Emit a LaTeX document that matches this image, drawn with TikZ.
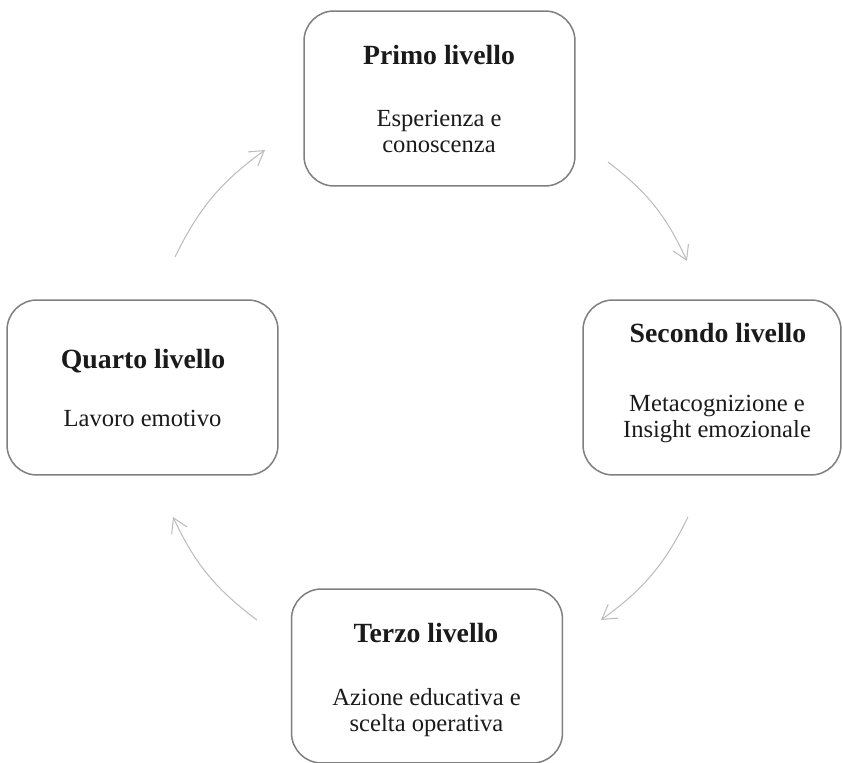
\documentclass[tikz,border=0pt]{standalone}
\usepackage{fontspec}
\setmainfont{Liberation Serif}
\usetikzlibrary{arrows.meta}

\definecolor{bordo}{HTML}{7F7F7F}
\definecolor{freccia}{HTML}{BDBDBD}
\definecolor{scritta}{HTML}{1A1A1A}

\tikzset{
  livello/.style={draw=bordo, line width=0.85pt, rounded corners=0.6cm, minimum height=3.5cm, inner sep=0pt},
  titolo/.style={anchor=base, text=scritta, font=\bfseries\fontsize{15.8}{18}\selectfont},
  testo/.style={anchor=base, align=center, text=scritta, font=\fontsize{14}{15.2}\selectfont},
  arco/.style={draw=freccia, line width=0.6pt, -{Straight Barb[length=0.28cm,width=0.34cm]}}
}

\begin{document}
\begin{tikzpicture}[x=0.02cm,y=-0.02cm]
\useasboundingbox (0,0) rectangle (843,763);

%the four boxes
\node [livello, minimum width=5.42cm] (primo) at (439.5,98.5) {};
\node [livello, minimum width=5.16cm] (secondo) at (712,387.5) {};
\node [livello, minimum width=5.42cm, minimum height=3.48cm] (terzo) at (427,676) {};
\node [livello, minimum width=5.42cm] (quarto) at (142.5,387.5) {};

%titles and texts (base of a two line text is its last line)
\node [titolo] (primoT) at (439,65) {Primo livello};
\node [testo] (primoD) at (439,153) {Esperienza e\\conoscenza};
\node [titolo] (secondoT) at (718,343) {Secondo livello};
\node [testo] (secondoD) at (717,438) {Metacognizione e\\Insight emozionale};
\node [titolo] (terzoT) at (426,643) {Terzo livello};
\node [testo] (terzoD) at (426.5,732) {Azione educativa e\\scelta operativa};
\node [titolo] (quartoT) at (143,369) {Quarto livello};
\node [testo] (quartoD) at (142.5,427) {Lavoro emotivo};

%the cycle of arrows
\coordinate (da1) at (175,257);  \coordinate (a1) at (265,150);
\coordinate (da2) at (608,162);  \coordinate (a2) at (687,261);
\coordinate (da3) at (688,517);  \coordinate (a3) at (601,620);
\coordinate (da4) at (257,620);  \coordinate (a4) at (173,517);
\foreach \i in {1,2,3,4} \draw [arco] (da\i) to[bend left=14] (a\i);

\end{tikzpicture}
\end{document}
